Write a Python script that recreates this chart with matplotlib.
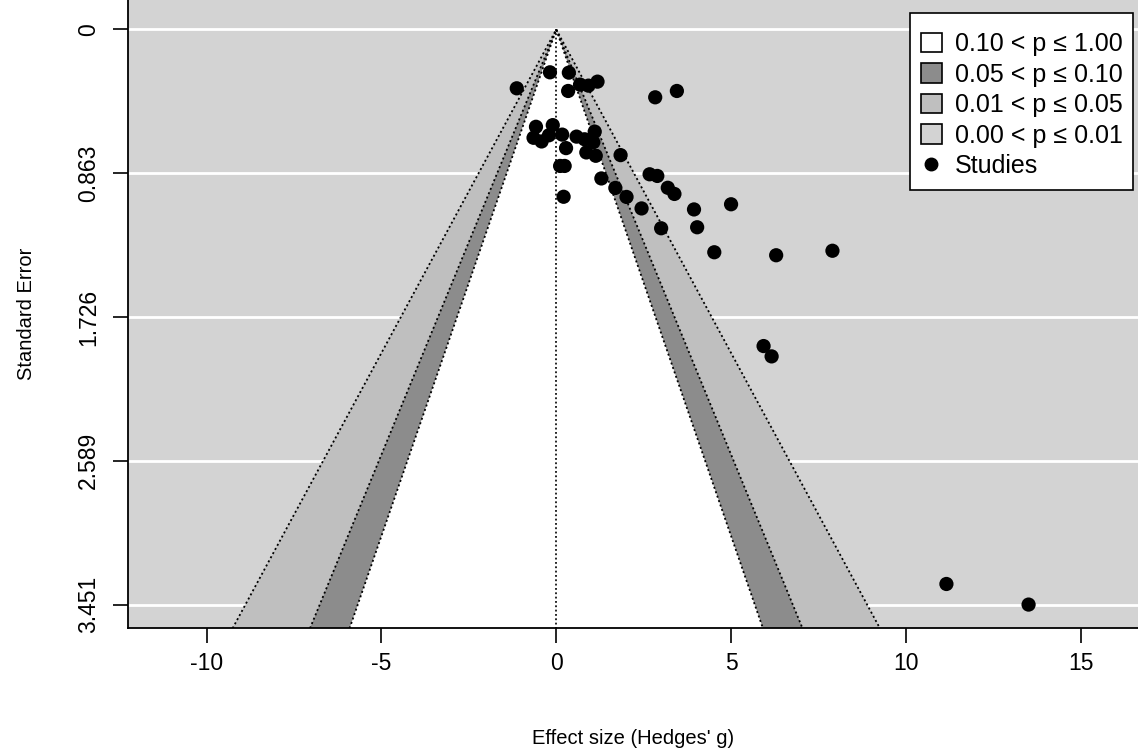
import numpy as np
import matplotlib
matplotlib.use('Agg')
import matplotlib.pyplot as plt
from matplotlib.patches import Patch, Rectangle
from matplotlib.lines import Line2D

plt.rcParams['font.family'] = ['Liberation Sans', 'DejaVu Sans']

# study effect sizes (Hedges' g) and their standard errors
yi = [-1.13, -0.18, 0.36, 0.34, 0.68, 0.92, 1.18, 2.83, 3.45,
      -0.58, -0.10, -0.65, -0.42, -0.21, 0.17, 0.58, 0.81, 1.10, 1.06,
      0.28, 0.86, 1.13, 1.84, 0.11, 0.24, 1.29, 1.69, 2.01, 2.44, 0.21,
      2.67, 2.89, 3.19, 3.38, 3.94, 5.00, 3.00, 4.03, 4.52, 6.29, 7.90,
      5.93, 6.16, 11.16, 13.51]
sei = [0.353, 0.257, 0.259, 0.369, 0.331, 0.337, 0.313, 0.407, 0.369,
       0.584, 0.574, 0.650, 0.672, 0.635, 0.631, 0.643, 0.659, 0.613, 0.677,
       0.712, 0.738, 0.758, 0.754, 0.819, 0.819, 0.894, 0.951, 1.005, 1.074, 1.004,
       0.869, 0.879, 0.950, 0.987, 1.080, 1.049, 1.193, 1.187, 1.337, 1.355, 1.328,
       1.900, 1.962, 3.328, 3.4516]

levels = [0.90, 0.95, 0.99]
crit = [1.644854, 1.959964, 2.575829]      # two-sided normal quantiles
shades = ['white', '#8C8C8C', '#BFBFBF']   # white, gray55, gray75
back = '#D3D3D3'                            # lightgray
legend_labels = ['0.10 < p \u2264 1.00', '0.05 < p \u2264 0.10',
                 '0.01 < p \u2264 0.05', '0.00 < p \u2264 0.01']
ytick_labels = ['0', '0.863', '1.726', '2.589', '3.451']

W, H = 1138, 755
fs_tick = 16.5
fs_lab = 14.5
fs_leg = 18
se_max = max(sei)
yticks = np.linspace(0, se_max, 5)
ylo, yhi = 3.594, -0.177
xlo, xhi = -12.25, 16.64

fig = plt.figure(figsize=(W / 100, H / 100), dpi=100)
ax = fig.add_axes([128 / W, 1 - 628.3 / H, 1010 / W, 628.3 / H])
ax.set_facecolor(back)

# horizontal reference lines at each y tick
for t in yticks:
    ax.axhline(t, color='white', lw=2, zorder=1)

# contour regions, widest first
for zc, col in sorted(zip(crit, shades), key=lambda t: -t[0]):
    ax.fill([-zc * ylo, 0, zc * ylo], [ylo, 0, ylo], color=col, lw=0, zorder=2)

dots = (0, (1.1, 1.5))
for zc in crit:
    ax.plot([-zc * ylo, 0, zc * ylo], [ylo, 0, ylo], color='black',
            ls=dots, lw=1.3, zorder=3)
ax.plot([0, 0], [0, ylo], color='black', ls=dots, lw=1.2, zorder=3)

ax.scatter(yi, sei, s=105, color='black', edgecolors='none', zorder=4)

ax.set_xlim(xlo, xhi)
ax.set_ylim(ylo, yhi)

ax.set_xticks([-10, -5, 0, 5, 10, 15])
ax.set_xticklabels(['-10', '-5', '0', '5', '10', '15'])
ax.set_yticks(yticks)
ax.set_yticklabels(ytick_labels, rotation=90, va='center')
ax.tick_params(axis='both', direction='out', length=11, width=1.2,
               labelsize=fs_tick, color='black')
ax.tick_params(axis='x', pad=6)
ax.tick_params(axis='y', pad=9)

ax.spines['right'].set_visible(False)
ax.spines['top'].set_visible(False)
ax.spines['left'].set_linewidth(1.3)
ax.spines['bottom'].set_linewidth(1.3)

ax.set_xlabel("Effect size (Hedges' g)", fontsize=fs_lab, labelpad=39)
ax.set_ylabel('Standard Error', fontsize=fs_lab, labelpad=30)

# legend box drawn separately so the rows can sit a little low in it
box = Rectangle((910 / W, 1 - 190 / H), 223 / W, 177 / H,
                transform=fig.transFigure, facecolor='white',
                edgecolor='black', lw=1.2, zorder=4.9, clip_on=False)
ax.add_patch(box)

handles = [Patch(facecolor=c, edgecolor='black', lw=1.2)
           for c in ['white', '#8C8C8C', '#BFBFBF', back]]
handles.append(Line2D([], [], marker='o', color='black', ls='none',
                      markersize=9))
leg = ax.legend(handles, legend_labels + ['Studies'], loc='upper right',
                bbox_to_anchor=(1137 / W, 1 - 18 / H),
                bbox_transform=fig.transFigure, borderaxespad=0,
                fontsize=fs_leg, frameon=False,
                handlelength=0.84, handleheight=0.84,
                handletextpad=0.52, labelspacing=0.26, borderpad=0.57)

fig.savefig('out.png', dpi=100)
